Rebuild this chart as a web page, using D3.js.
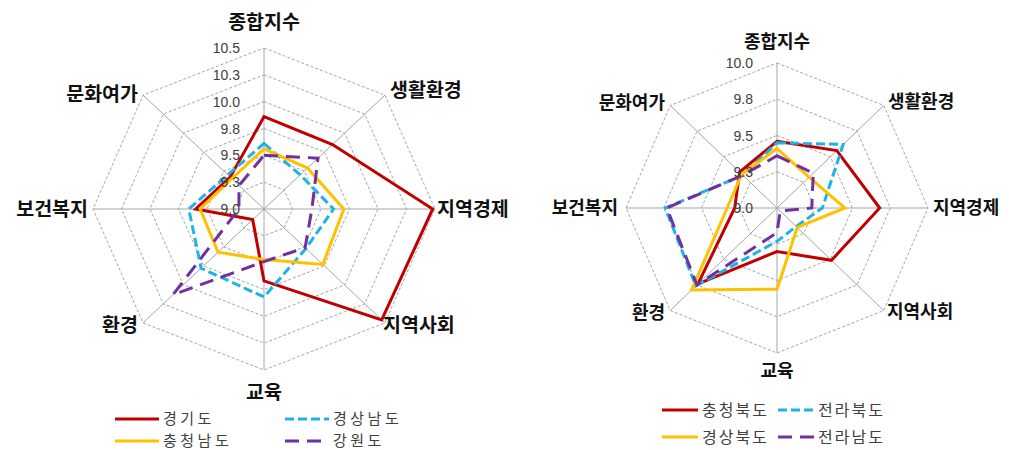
<!DOCTYPE html>
<html>
<head>
<meta charset="utf-8">
<script src="https://cdn.jsdelivr.net/npm/d3@7"></script>
<style>
    body { margin: 0; background: #fff; }
    svg { display: block; }
    .axis-label { font-family: "Noto Sans CJK KR", sans-serif; font-weight: bold; fill: #111; }
    .tick-label { font-family: "Liberation Sans", Arial, sans-serif; font-size: 14px; fill: #404040; }
    .legend-label { font-family: "Noto Sans CJK KR", sans-serif; fill: #404040; }
</style>
</head>
<body>
<svg id="chart" width="1009" height="450"></svg>
<script>
const axes = ["종합지수", "생활환경", "지역경제", "지역사회", "교육", "환경", "보건복지", "문화여가"]

const leftTicks = [9.0, 9.25, 9.5, 9.75, 10.0, 10.25, 10.5]
const leftTickLabels = ["9.0", "9.3", "9.5", "9.8", "10.0", "10.3", "10.5"]
const leftNames = ["경기도", "경상남도", "충청남도", "강원도"]
const gyeonggi = [9.86, 9.85, 10.48, 10.46, 9.67, 9.14, 9.60, 9.42]
const gyeongnam = [9.61, 9.45, 9.61, 9.52, 9.82, 9.78, 9.66, 9.45]
const chungnam = [9.56, 9.54, 9.70, 9.73, 9.47, 9.57, 9.56, 9.40]
const gangwon = [9.50, 9.67, 9.42, 9.51, 9.49, 10.13, 9.22, 9.31]

const rightTicks = [9.0, 9.25, 9.5, 9.75, 10.0]
const rightTickLabels = ["9.0", "9.3", "9.5", "9.8", "10.0"]
const rightNames = ["충청북도", "전라북도", "경상북도", "전라남도"]
const chungbuk = [9.46, 9.56, 9.68, 9.51, 9.30, 9.74, 9.28, 9.35]
const jeonbuk = [9.45, 9.62, 9.30, 9.18, 9.23, 9.76, 9.74, 9.32]
const gyeongbuk = [9.41, 9.30, 9.45, 9.19, 9.56, 9.80, 9.33, 9.33]
const jeonnam = [9.36, 9.34, 9.23, 9.03, 9.17, 9.75, 9.73, 9.32]

// red / light blue / yellow / purple, same order in both charts
const styles = [
    {color: "#c00000", dash: null},
    {color: "#1fb2e8", dash: "9,4"},
    {color: "#ffc000", dash: null},
    {color: "#7030a0", dash: "14,8"},
]

class RadarChart {
    constructor (svg, opts) {
        this.g = svg.append("g").attr("transform", "translate(" + opts.cx + "," + opts.cy + ")")
        this.rx = opts.rx
        this.ry = opts.ry
        this.r = d3.scaleLinear().domain(d3.extent(opts.ticks)).range([0, 1])
        this.angle = d3.scaleLinear().domain([0, axes.length]).range([0, 2 * Math.PI])
        this.opts = opts
    }

    point (i, v) {
        const a = this.angle(i), k = this.r(v)
        return [Math.sin(a) * k * this.rx, -Math.cos(a) * k * this.ry]
    }

    draw (series) {
        const opts = this.opts
        const line = d3.line().curve(d3.curveLinearClosed)

        // rings
        this.g.selectAll(".ring")
            .data(opts.ticks.slice(1))
            .enter().append("path")
            .attr("class", "ring")
            .attr("d", t => line(axes.map((a, i) => this.point(i, t))))
            .attr("fill", "none")
            .attr("stroke", "#a6a6a6")
            .attr("stroke-dasharray", "3,2")

        // spokes
        const top = opts.ticks[opts.ticks.length - 1]
        this.g.selectAll(".spoke")
            .data(axes)
            .enter().append("line")
            .attr("class", "spoke")
            .attr("x1", 0).attr("y1", 0)
            .attr("x2", (d, i) => this.point(i, top)[0])
            .attr("y2", (d, i) => this.point(i, top)[1])
            .attr("stroke", "#a6a6a6")

        // series
        this.g.selectAll(".series")
            .data(series)
            .enter().append("path")
            .attr("class", "series")
            .attr("d", s => line(s.values.map((v, i) => this.point(i, v))))
            .attr("fill", "none")
            .attr("stroke", (s, i) => styles[i].color)
            .attr("stroke-width", 3)
            .attr("stroke-dasharray", (s, i) => styles[i].dash)
            .attr("stroke-linejoin", "miter")

        // tick labels, left of the vertical axis
        this.g.selectAll(".tick-label")
            .data(opts.ticks)
            .enter().append("text")
            .attr("class", "tick-label")
            .attr("x", -24)
            .attr("y", t => this.point(0, t)[1])
            .attr("dy", "0.36em")
            .attr("text-anchor", "end")
            .text((t, i) => opts.tickLabels[i])

        // axis names
        this.g.selectAll(".axis-label")
            .data(axes)
            .enter().append("text")
            .attr("class", "axis-label")
            .attr("font-size", opts.labelSize)
            .attr("x", (d, i) => opts.labelPos[i][0])
            .attr("y", (d, i) => opts.labelPos[i][1])
            .attr("dy", "0.35em")
            .attr("text-anchor", (d, i) => opts.labelPos[i][2])
            .text(d => d)
    }

    legend (series, x0, y0, colW, rowH) {
        const o = this.opts
        const lg = this.g.append("g").attr("transform", "translate(" + (x0 - o.cx) + "," + (y0 - o.cy) + ")")
        const item = lg.selectAll(".item")
            .data(series)
            .enter().append("g")
            .attr("transform", (s, i) => "translate(" + (i % 2) * colW + "," + Math.floor(i / 2) * rowH + ")")
        item.append("line")
            .attr("x1", 0).attr("x2", o.legendLine)
            .attr("stroke", (s, i) => styles[i].color)
            .attr("stroke-width", 3)
            .attr("stroke-dasharray", (s, i) => styles[i].dash)
        item.append("text")
            .attr("class", "legend-label")
            .attr("font-size", o.legendSize)
            .attr("letter-spacing", o.legendSpacing)
            .attr("x", o.legendLine + 4)
            .attr("dy", "0.36em")
            .text(s => s.name)
    }
}

const svg = d3.select("#chart")

const leftSeries = [gyeonggi, gyeongnam, chungnam, gangwon].map((v, i) => ({name: leftNames[i], values: v}))
const left = new RadarChart(svg, {
    cx: 264, cy: 209, rx: 171, ry: 161,
    ticks: leftTicks, tickLabels: leftTickLabels, labelSize: 19.5,
    legendLine: 44, legendSize: 15, legendSpacing: 3.5,
    labelPos: [[0, -187, "middle"], [126, -119, "start"], [173, 0, "start"], [119, 116, "start"],
               [0, 183, "middle"], [-126, 116, "end"], [-176, 0, "end"], [-126, -115, "end"]],
})
left.draw(leftSeries)
left.legend(leftSeries, 115, 419, 170, 22)

const rightSeries = [chungbuk, jeonbuk, gyeongbuk, jeonnam].map((v, i) => ({name: rightNames[i], values: v}))
const right = new RadarChart(svg, {
    cx: 777, cy: 208, rx: 151, ry: 145,
    ticks: rightTicks, tickLabels: rightTickLabels, labelSize: 18,
    legendLine: 36, legendSize: 16, legendSpacing: 2,
    labelPos: [[0, -166, "middle"], [111, -106, "start"], [156, 0, "start"], [110, 104, "start"],
               [0, 163, "middle"], [-112, 105, "end"], [-159, 0, "end"], [-112, -105, "end"]],
})
right.draw(rightSeries)
right.legend(rightSeries, 662, 410, 116, 27)
</script>
</body>
</html>
